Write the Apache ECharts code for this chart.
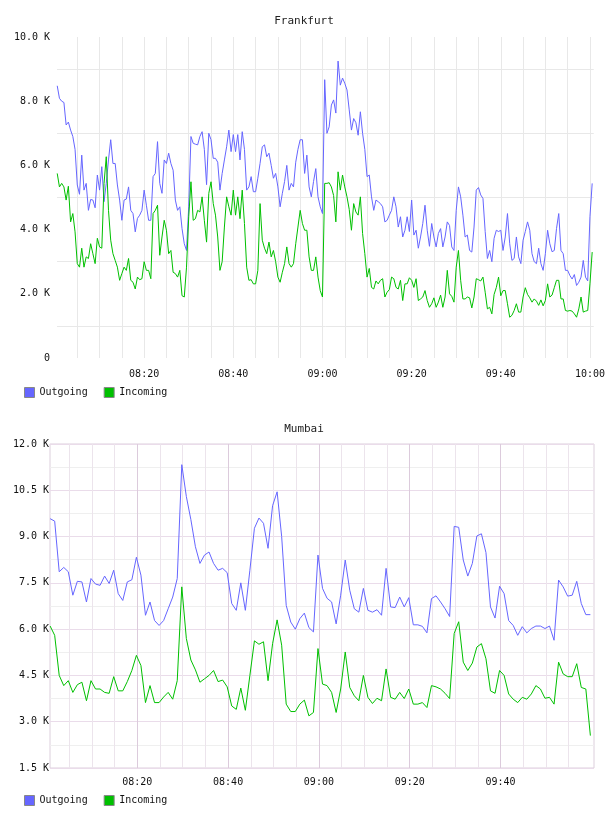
<!DOCTYPE html>
<html>
<head>
<meta charset="utf-8">
<title>Frankfurt / Mumbai traffic</title>
<script src="https://cdn.jsdelivr.net/npm/echarts@6/dist/echarts.min.js"></script>
<style>
  html, body { margin: 0; padding: 0; background: #fff; }
  #main { width: 608px; height: 816px; }
</style>
</head>
<body>
<div id="main"></div>
<script>
// values in thousands; x is minutes after 08:00
// Frankfurt: one sample every 30 s starting 08:00:30
var fraStart = 0.5, fraStep = 0.5;
var fraOutgoing = [
    8.48, 8.09, 8.0, 7.96, 7.26, 7.35, 7.1, 6.9, 6.5, 5.39,
    5.1, 6.32, 5.23, 5.44, 4.6, 4.94, 4.92, 4.68, 5.7, 5.23,
    5.96, 4.87, 5.44, 6.17, 6.8, 6.06, 6.06, 5.39, 4.92, 4.29,
    4.92, 4.95, 5.33, 4.6, 4.5, 3.93, 4.35, 4.45, 4.6, 5.23,
    4.76, 4.29, 4.29, 5.65, 5.75, 6.74, 5.44, 5.13, 6.17, 6.06,
    6.38, 6.06, 5.85, 4.92, 4.6, 4.71, 4.03, 3.56, 3.35, 4.71,
    6.9,
    6.69, 6.66, 6.64, 6.9, 7.05, 6.5, 5.4, 7.0, 6.8, 6.22,
    6.22, 6.1, 5.23, 5.75, 6.17, 6.58, 7.1, 6.43, 6.96, 6.43,
    6.96, 6.17, 7.05, 6.5, 5.23, 5.33, 5.65, 5.18, 5.18, 5.6,
    6.06, 6.58, 6.64, 6.27, 6.38, 6.0, 5.6, 5.75, 5.33, 4.71,
    5.13, 5.5, 6.0, 5.23, 5.44, 5.33, 6.1, 6.5, 6.8, 6.8,
    5.75, 6.32, 5.33, 5.02, 5.5, 5.9, 5.02, 4.71, 4.5, 8.67,
    7.0, 7.2, 7.88, 8.04, 7.63, 9.25, 8.5, 8.72, 8.56, 8.35,
    7.73, 7.1, 7.46, 7.33, 6.94, 7.67, 7.0, 6.5, 5.65, 5.7,
    5.02, 4.6, 4.92, 4.87, 4.81, 4.71, 4.24, 4.29, 4.45, 4.6,
    5.02, 4.71, 4.08, 4.4, 3.77, 3.98, 4.4, 3.94, 4.92, 3.83,
    3.98, 3.42, 3.77, 4.19, 4.76, 3.98, 3.48, 4.19, 3.77, 3.46,
    3.88, 4.03, 3.46, 3.77, 4.24, 4.13, 3.46, 3.35, 4.6, 5.33,
    5.02, 4.45, 3.77, 3.83, 3.35, 3.3, 4.08, 5.23, 5.31, 5.08,
    4.97, 3.94, 3.1, 3.35, 3.0, 3.73, 3.98, 3.94, 3.98, 3.35,
    3.77, 4.5, 3.56, 3.04, 3.1, 3.77, 3.15, 2.94, 3.67, 3.94,
    4.24, 3.98, 3.25, 3.0, 2.94, 3.42, 2.94, 2.73, 3.25, 3.98,
    3.56, 3.31, 3.35, 4.03, 4.5, 3.35, 3.25, 2.73, 2.73, 2.57,
    2.46, 2.6, 2.26, 2.36, 2.52, 3.04, 2.52, 2.4, 4.4, 5.44
];
var fraIncoming = [
    5.75, 5.33, 5.44, 5.33, 4.92, 5.35, 4.24, 4.5, 3.93, 2.94,
    2.83, 3.42, 2.83, 3.15, 3.1, 3.56, 3.25, 2.94, 3.73, 3.46,
    3.42, 5.44, 6.27, 4.6, 3.67, 3.25, 3.04, 2.83, 2.42, 2.63,
    2.83, 2.73, 3.1, 2.42, 2.36, 2.15, 2.52, 2.44, 2.47, 3.0,
    2.73, 2.73, 2.47, 4.5, 4.6, 4.76, 3.2, 3.77, 4.29, 3.98,
    3.25, 3.35, 2.67, 2.63, 2.52, 2.73, 1.94, 1.9, 2.83, 4.4,
    5.49,
    4.29, 4.34, 4.6, 4.55, 5.02, 4.29, 3.61, 5.13, 5.49, 4.81,
    4.45, 3.77, 2.73, 3.0, 4.08, 5.02, 4.71, 4.45, 5.23, 4.45,
    5.02, 4.34, 5.23, 4.19, 2.83, 2.42, 2.44, 2.31, 2.31, 2.73,
    4.81, 3.67, 3.42, 3.25, 3.61, 3.15, 3.35, 3.0, 2.52, 2.36,
    2.67, 2.94, 3.46, 2.94, 2.83, 2.94, 3.56, 4.08, 4.6, 4.19,
    3.98, 3.98, 3.15, 2.73, 2.73, 3.15, 2.52, 2.1, 1.9, 5.44,
    5.44, 5.46, 5.33, 5.06, 4.24, 5.8, 5.23, 5.7, 5.33, 5.02,
    4.63, 3.98, 4.81, 4.55, 4.45, 5.02, 3.88, 3.25, 2.52, 2.79,
    2.2, 2.15, 2.4, 2.31, 2.42, 2.47, 1.9, 2.05, 2.13, 2.52,
    2.47, 2.2, 2.15, 2.42, 1.79, 2.31, 2.31, 2.5, 2.42, 2.2,
    2.47, 1.79, 1.84, 1.9, 2.1, 1.79, 1.58, 1.69, 1.875, 1.58,
    1.74, 1.96, 1.58, 1.9, 2.73, 2.0, 1.92, 1.74, 2.83, 3.35,
    2.42, 1.84, 1.84, 1.9, 1.875, 1.56, 1.9, 2.47, 2.44, 2.4,
    2.52, 2.05, 1.53, 1.58, 1.375, 1.98, 2.2, 2.52, 1.94, 2.1,
    2.1, 1.69, 1.27, 1.33, 1.48, 1.69, 1.43, 1.43, 1.9, 2.19,
    1.98, 1.875, 1.74, 1.84, 1.77, 1.64, 1.81, 1.625, 1.79, 2.31,
    1.9, 1.96, 2.19, 2.42, 2.42, 1.84, 1.84, 1.48, 1.46, 1.48,
    1.46, 1.375, 1.27, 1.53, 1.9, 1.43, 1.46, 1.48, 2.31, 3.3
];

// Mumbai: one sample per minute starting 08:00:48
var bomStart = 0.8, bomStep = 1;
var bomOutgoing = [
    9.58, 9.5, 7.86, 8.0, 7.86, 7.1, 7.55, 7.53, 6.88, 7.64,
    7.46, 7.42, 7.72, 7.48, 7.91, 7.15, 6.93, 7.53, 7.6, 8.33,
    7.75, 6.45, 6.88, 6.28, 6.12, 6.28, 6.66, 7.04, 7.64, 11.33,
    10.3, 9.55, 8.67, 8.13, 8.4, 8.5, 8.13, 7.91, 7.97, 7.83,
    6.83, 6.61, 7.5, 6.61, 7.91, 9.27, 9.6, 9.43, 8.62, 10.0,
    10.45, 9.0, 6.77, 6.23, 6.0, 6.34, 6.52, 6.05, 5.91, 8.4,
    7.32, 7.0, 6.88, 6.17, 7.1, 8.24, 7.26, 6.66, 6.55, 7.32,
    6.61, 6.55, 6.63, 6.45, 7.97, 6.72, 6.7, 7.04, 6.72, 7.02,
    6.14, 6.14, 6.09, 5.88, 6.99, 7.08, 6.88, 6.66, 6.41, 9.33,
    9.3, 8.24, 7.72, 8.13, 9.02, 9.09, 8.48, 6.72, 6.36, 7.39,
    7.15, 6.28, 6.12, 5.8, 6.08, 5.88, 6.02, 6.1, 6.1, 6.02,
    6.1, 5.64, 7.59, 7.37, 7.07, 7.1, 7.55, 6.83, 6.47, 6.47
];
var bomIncoming = [
    6.1, 5.8, 4.5, 4.17, 4.33, 3.95, 4.2, 4.28, 3.68, 4.33,
    4.06, 4.06, 3.95, 3.92, 4.46, 4.0, 4.0, 4.3, 4.66, 5.15,
    4.82, 3.62, 4.17, 3.62, 3.62, 3.8, 3.95, 3.73, 4.33, 7.37,
    5.7, 5.0, 4.68, 4.28, 4.39, 4.5, 4.66, 4.3, 4.35, 4.13,
    3.51, 3.4, 4.09, 3.37, 4.5, 5.62, 5.51, 5.59, 4.33, 5.53,
    6.3, 5.48, 3.57, 3.33, 3.33, 3.57, 3.7, 3.19, 3.3, 5.37,
    4.22, 4.17, 3.95, 3.3, 4.06, 5.26, 4.11, 3.84, 3.68, 4.5,
    3.79, 3.59, 3.76, 3.68, 4.71, 3.79, 3.73, 3.95, 3.75, 4.06,
    3.57, 3.57, 3.62, 3.46, 4.17, 4.13, 4.06, 3.92, 3.75, 5.86,
    6.24, 4.93, 4.66, 4.9, 5.42, 5.53, 5.04, 4.0, 3.92, 4.66,
    4.5, 3.9, 3.73, 3.62, 3.79, 3.73, 3.9, 4.17, 4.06, 3.76,
    3.79, 3.57, 4.93, 4.55, 4.46, 4.46, 4.88, 4.11, 4.06, 2.55
];

// x labels (minutes after 08:00)
var fraTimeLabels = [20, 40, 60, 80, 100, 120];
var bomTimeLabels = [20, 40, 60, 80, 100];

var blue = '#6666ff';
var green = '#00c000';
var font = 'DejaVu Sans Mono';

// vertical grid every 5 minutes
function everyFive(last) {
    var out = [];
    for (var m = 5; m <= last; m += 5) out.push(m);
    return out;
}

function pairs(start, step, vals) {
    return vals.map(function (v, i) { return [start + i * step, v]; });
}
function pad(n) { return (n < 10 ? '0' : '') + n; }
function clock(v) {
    var mins = Math.round(v);
    return pad(8 + Math.floor(mins / 60)) + ':' + pad(mins % 60);
}
function kilo(v) {
    return v === 0 ? '0' : v.toFixed(1) + ' K';
}

var labelStyle = { fontFamily: font, fontSize: 10, color: '#111' };
var titleStyle = { fontFamily: font, fontSize: 11, fontWeight: 'normal', color: '#222' };

var myChart = echarts.init(document.getElementById('main'));

option = {
    animation: false,
    backgroundColor: '#fff',
    title: [{
        text: 'Frankfurt',
        left: 'center',
        top: 16,
        padding: 0,
        textStyle: titleStyle
    }, {
        text: 'Mumbai',
        left: 'center',
        top: 424,
        padding: 0,
        textStyle: titleStyle
    }],
    legend: [{
        data: ['Outgoing', 'Incoming'],
        left: 24,
        top: 387,
        padding: 0,
        icon: 'rect',
        itemWidth: 10,
        itemHeight: 10,
        itemGap: 16,
        itemStyle: { borderColor: '#888', borderWidth: 1 },
        textStyle: labelStyle
    }, {
        data: ['Outgoing', 'Incoming'],
        left: 24,
        top: 795,
        padding: 0,
        icon: 'rect',
        itemWidth: 10,
        itemHeight: 10,
        itemGap: 16,
        itemStyle: { borderColor: '#888', borderWidth: 1 },
        textStyle: labelStyle
    }],
    grid: [{
        left: 57, top: 37, width: 537, height: 321
    }, {
        left: 50, top: 444, width: 544, height: 324,
        show: true, borderColor: '#dccfdc', borderWidth: 1
    }],
    xAxis: [{
        type: 'value',
        gridIndex: 0,
        min: 0.45,
        max: 120.85,
        axisLine: { show: false },
        axisTick: { show: false, customValues: everyFive(120) },
        axisLabel: Object.assign({ customValues: fraTimeLabels, formatter: clock, margin: 11 }, labelStyle),
        splitLine: { show: true, lineStyle: { color: '#e8e8e8', width: 1 } }
    }, {
        type: 'value',
        gridIndex: 1,
        min: 0.77,
        max: 120.6,
        axisLine: { show: false },
        axisTick: { show: false, customValues: everyFive(115) },
        axisLabel: Object.assign({ customValues: bomTimeLabels, formatter: clock, margin: 9 }, labelStyle),
        splitLine: { show: true, lineStyle: { color: ['#ece4ec', '#ece4ec', '#ece4ec', '#dccbdc'], width: 1 } }
    }],
    yAxis: [{
        type: 'value',
        gridIndex: 0,
        min: 0,
        max: 10,
        interval: 2,
        axisLine: { show: false },
        axisTick: { show: false },
        axisLabel: Object.assign({ formatter: kilo, margin: 7 }, labelStyle),
        splitLine: { show: false },
        minorTick: { show: false, splitNumber: 2 },
        minorSplitLine: { show: true, lineStyle: { color: '#e8e8e8', width: 1 } }
    }, {
        type: 'value',
        gridIndex: 1,
        min: 1.5,
        max: 12,
        interval: 1.5,
        axisLine: { show: false },
        axisTick: { show: false },
        axisLabel: Object.assign({ formatter: kilo, margin: 1 }, labelStyle),
        splitLine: { show: true, lineStyle: { color: '#eadcea', width: 1 } },
        minorTick: { show: false, splitNumber: 2 },
        minorSplitLine: { show: true, lineStyle: { color: '#efefef', width: 1 } }
    }],
    series: [{
        name: 'Outgoing',
        type: 'line',
        xAxisIndex: 0,
        yAxisIndex: 0,
        data: pairs(fraStart, fraStep, fraOutgoing),
        showSymbol: false,
        lineStyle: { width: 1, color: blue },
        itemStyle: { color: blue }
    }, {
        name: 'Incoming',
        type: 'line',
        xAxisIndex: 0,
        yAxisIndex: 0,
        data: pairs(fraStart, fraStep, fraIncoming),
        showSymbol: false,
        lineStyle: { width: 1, color: green },
        itemStyle: { color: green }
    }, {
        name: 'Outgoing',
        type: 'line',
        xAxisIndex: 1,
        yAxisIndex: 1,
        data: pairs(bomStart, bomStep, bomOutgoing),
        showSymbol: false,
        lineStyle: { width: 1, color: blue },
        itemStyle: { color: blue }
    }, {
        name: 'Incoming',
        type: 'line',
        xAxisIndex: 1,
        yAxisIndex: 1,
        data: pairs(bomStart, bomStep, bomIncoming),
        showSymbol: false,
        lineStyle: { width: 1, color: green },
        itemStyle: { color: green }
    }]
};

myChart.setOption(option);
</script>
</body>
</html>
